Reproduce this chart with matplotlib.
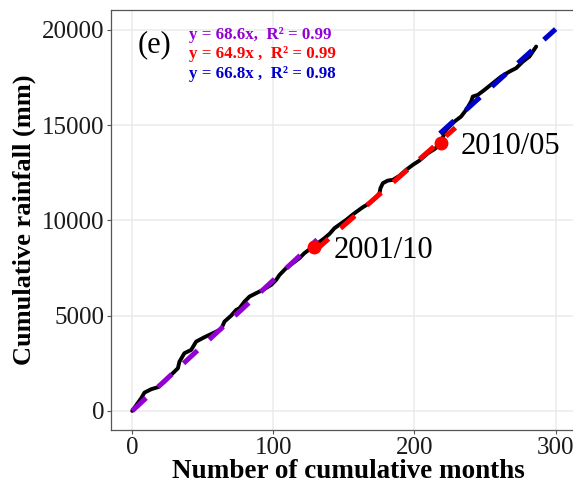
import matplotlib.pyplot as plt
import numpy as np

# cumulative rainfall (month index, mm)
months = [0, 0.5, 6.4, 8.7, 13.5, 18.2, 22.9, 28.8, 32.4, 33.5, 37, 41.8, 45.3, 51.2,
          57.2, 63, 65.4, 70.1, 73.7, 76, 79.6, 83.1, 87.8, 92.6, 98.5, 102, 104.4,
          109, 113.8, 118.5, 122, 126.8, 131.5, 136.2, 139.8, 143.3, 151.6, 157.5,
          163.4, 168.1, 172.8, 175.2, 175.9, 177.6, 181.1, 184.7, 189.3, 194.1,
          198.8, 203.5, 209.5, 214.1, 217.7, 222.4, 228.3, 233, 236.6, 240.1,
          241.3, 244.9, 249.6, 255.5, 261.4, 267.3, 272, 276.8, 281.4, 286.2]
rain = [0, 52, 667, 960, 1139, 1244, 1538, 1979, 2241, 2588, 3029, 3202, 3638, 3869,
        4079, 4289, 4688, 5000, 5302, 5390, 5738, 6000, 6178, 6352, 6614, 6877, 7139,
        7489, 7753, 8016, 8279, 8541, 8803, 9066, 9291, 9590, 10026, 10376,
        10692, 10901, 11218, 11428, 11690, 11953, 12090, 12126, 12336, 12651,
        12913, 13139, 13527, 13737, 13963, 14751, 15186, 15449, 15801, 16237,
        16500, 16588, 16850, 17201, 17548, 17811, 17989, 18336, 18598, 19123]

# fitted slopes (through origin) and the month ranges they cover
slopes = [68.6, 64.9, 66.8]
fit_ranges = [(0, 131), (129, 229), (218, 300)]
fit_colors = ['#9400D3', '#FF0000', '#0000CD']
eq_labels = ['y = 68.6x,  R\u00b2 = 0.99',
             'y = 64.9x ,  R\u00b2 = 0.99',
             'y = 66.8x ,  R\u00b2 = 0.98']

# breakpoints
bp_x = [129, 218.7]
bp_y = [8610, 14070]
bp_labels = ['2001/10', '2010/05']

plt.rcParams['font.family'] = ['Liberation Serif', 'DejaVu Serif']

fig = plt.figure(figsize=(5.73, 4.83), dpi=100)
# right edge of the panel runs past the picture, as in the reference
ax = fig.add_axes([111 / 573, 53 / 483, 475 / 573, 420 / 483])

ax.plot(months, rain, color='black', lw=2.8, solid_capstyle='round', zorder=3)

for (a, b), k, c in zip(fit_ranges, slopes, fit_colors):
    xs = np.array([a, b])
    ax.plot(xs, k * xs, color=c, lw=3.6, dashes=(3.8, 3.2), zorder=4)

ax.plot(bp_x, bp_y, 'o', color='#FF0000', ms=9, zorder=5)
ax.text(143, 8609, bp_labels[0], fontsize=22, va='center_baseline', ha='left')
ax.text(233, 14068, bp_labels[1], fontsize=22, va='center_baseline', ha='left')

ax.text(4.2, 19423, '(e)', fontsize=22, va='center_baseline', ha='left')
for i, (lab, c) in enumerate(zip(eq_labels, fit_colors)):
    ax.text(40.5, 19843 - i * 1025, lab, color=c, fontsize=12.2, fontweight='bold',
            va='center_baseline', ha='left')

ax.set_xlim(-15, 321.5)
ax.set_ylim(-1002, 21042)
ax.set_xticks([0, 100, 200, 300])
ax.set_yticks([0, 5000, 10000, 15000, 20000])
ax.grid(True, color='#EBEBEB', lw=1.1)
ax.set_axisbelow(True)
for s in ax.spines.values():
    s.set_color('#555555')
    s.set_linewidth(0.9)
ax.tick_params(length=3, width=0.8, color='#555555', labelsize=18, labelcolor='#1a1a1a', pad=2)

ax.set_xlabel('Number of cumulative months', fontsize=19.5, fontweight='bold', labelpad=0)
ax.set_ylabel('Cumulative rainfall (mm)', fontsize=19, fontweight='bold', labelpad=4)

fig.savefig('out.png', dpi=100)
